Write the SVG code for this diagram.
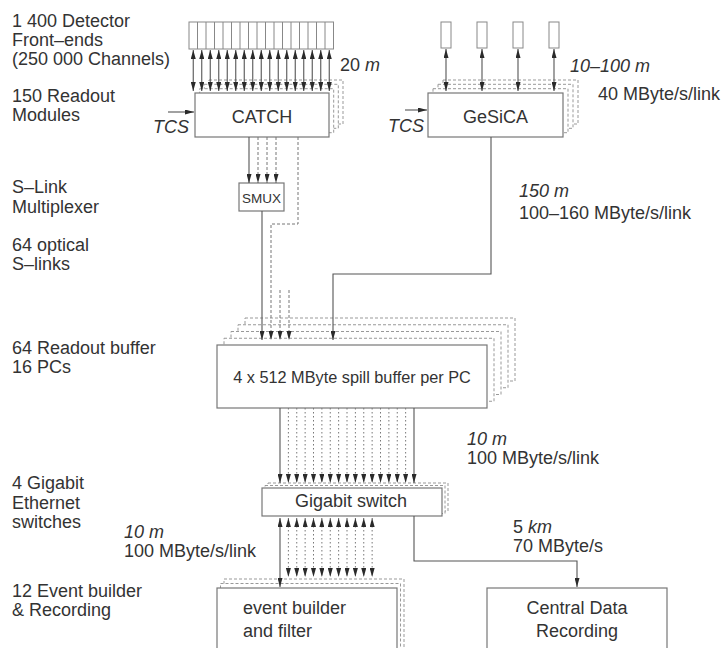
<svg xmlns="http://www.w3.org/2000/svg" width="727" height="648" viewBox="0 0 727 648">
<defs>
<marker id="ah" viewBox="0 0 9 5" markerWidth="9" markerHeight="5" refX="9" refY="2.5" markerUnits="userSpaceOnUse" orient="auto-start-reverse">
<path d="M0,0 L9,2.5 L0,5 z" fill="#2a2a2a"/>
</marker>
<style>
text{font-family:"Liberation Sans",Arial,Helvetica,sans-serif;font-size:18px;fill:#333}
.it{font-style:italic}
.box{fill:#fff;stroke:#777;stroke-width:1.2}
.sh{fill:#fff;stroke:#999;stroke-width:1;stroke-dasharray:3,2}
.fe{fill:#fff;stroke:#888;stroke-width:1}
.ln{fill:none;stroke:#555;stroke-width:1.1}
.ds{fill:none;stroke:#777;stroke-width:1;stroke-dasharray:3,2}
.dt{fill:none;stroke:#777;stroke-width:1;stroke-dasharray:1.5,2.5}
.a2{marker-start:url(#ah);marker-end:url(#ah)}
.a1{marker-end:url(#ah)}
</style>
</defs>
<rect width="727" height="648" fill="#fff"/>

<g id="labels">
<text x="12" y="27">1 400 Detector</text>
<text x="12" y="46">Front–ends</text>
<text x="12" y="65">(250 000 Channels)</text>
<text x="12" y="102">150 Readout</text>
<text x="12" y="121">Modules</text>
<text x="12" y="193">S–Link</text>
<text x="12" y="213">Multiplexer</text>
<text x="12" y="251">64 optical</text>
<text x="12" y="270">S–links</text>
<text x="12" y="354">64 Readout buffer</text>
<text x="12" y="373">16 PCs</text>
<text x="12" y="489">4 Gigabit</text>
<text x="12" y="509">Ethernet</text>
<text x="12" y="528">switches</text>
<text x="12" y="597">12 Event builder</text>
<text x="12" y="616">&amp; Recording</text>
<text x="340" y="71">20 <tspan class="it">m</tspan></text>
<text x="570" y="72" class="it">10–100 m</text>
<text x="598" y="100">40 MByte/s/link</text>
<text x="153" y="133" class="it">TCS</text>
<text x="388" y="132" class="it">TCS</text>
<text x="519" y="197" class="it">150 m</text>
<text x="519" y="219">100–160 MByte/s/link</text>
<text x="467" y="445" class="it">10 m</text>
<text x="467" y="464">100 MByte/s/link</text>
<text x="124" y="538" class="it">10 m</text>
<text x="124" y="557">100 MByte/s/link</text>
<text x="513" y="533">5 <tspan class="it">km</tspan></text>
<text x="513" y="552">70 MByte/s</text>
</g>

<g id="frontends">
<rect class="fe" x="189" y="22" width="144.5" height="27"/>
<path d="M197.5,22V49M206,22V49M214.5,22V49M223,22V49M231.5,22V49M240,22V49M248.5,22V49M257,22V49M265.5,22V49M274,22V49M282.5,22V49M291,22V49M299.5,22V49M308,22V49M316.5,22V49M325,22V49" stroke="#888" stroke-width="1" fill="none"/>
</g>

<g id="gesica-frontends">
<rect class="fe" x="441" y="22" width="10" height="26"/>
<rect class="fe" x="477" y="22" width="10" height="26"/>
<rect class="fe" x="513" y="22" width="10" height="26"/>
<rect class="fe" x="549" y="22" width="10" height="26"/>
</g>

<g id="catch">
<rect class="sh" x="209" y="80" width="134" height="44"/>
<rect class="sh" x="204.3" y="84.3" width="134" height="44"/>
<rect class="sh" x="199.7" y="88.7" width="134" height="44"/>
<rect class="box" x="195" y="93" width="134" height="44"/>
<text x="262" y="123" text-anchor="middle">CATCH</text>
</g>

<g id="gesica">
<rect class="sh" x="443" y="80" width="135" height="44"/>
<rect class="sh" x="438" y="84.3" width="135" height="44"/>
<rect class="sh" x="433" y="88.7" width="135" height="44"/>
<rect class="box" x="428" y="93" width="135" height="44"/>
<text x="495.5" y="123" text-anchor="middle">GeSiCA</text>
</g>

<g id="smux">
<rect class="box" x="239" y="183" width="45" height="28" stroke-width="1"/>
<text x="261.5" y="203" text-anchor="middle" style="font-size:13.5px">SMUX</text>
</g>

<g id="buffer">
<rect class="sh" x="245" y="318" width="270" height="63"/>
<rect class="sh" x="238" y="324.75" width="270" height="63"/>
<rect class="sh" x="231" y="331.5" width="270" height="63"/>
<rect class="sh" x="224" y="338.25" width="270" height="63"/>
<rect class="box" x="217" y="345" width="270" height="63"/>
<text x="352" y="383" text-anchor="middle" style="font-size:16.3px">4 x 512 MByte spill buffer per PC</text>
</g>

<g id="switch">
<rect class="sh" x="268" y="483" width="180" height="28"/>
<rect class="sh" x="265" y="485.5" width="180" height="28"/>
<rect class="box" x="262" y="488" width="180" height="28"/>
<text x="351" y="507" text-anchor="middle">Gigabit switch</text>
</g>

<g id="event-builder">
<rect class="sh" x="224" y="579" width="180" height="80"/>
<rect class="sh" x="220.5" y="583.5" width="180" height="80"/>
<rect class="box" x="217" y="588" width="180" height="80"/>
<text x="243" y="614">event builder</text>
<text x="243" y="637">and filter</text>
</g>

<g id="central-data-recording">
<rect class="box" x="487" y="588" width="180" height="80"/>
<text x="577" y="614" text-anchor="middle">Central Data</text>
<text x="577" y="637" text-anchor="middle">Recording</text>
</g>

<g id="connectors">
<g class="ln a2">
<line x1="193.25" y1="50" x2="193.25" y2="91"/>
<line x1="201.75" y1="50" x2="201.75" y2="91"/>
<line x1="210.25" y1="50" x2="210.25" y2="91"/>
<line x1="218.75" y1="50" x2="218.75" y2="91"/>
<line x1="227.25" y1="50" x2="227.25" y2="91"/>
<line x1="235.75" y1="50" x2="235.75" y2="91"/>
<line x1="244.25" y1="50" x2="244.25" y2="91"/>
<line x1="252.75" y1="50" x2="252.75" y2="91"/>
<line x1="261.25" y1="50" x2="261.25" y2="91"/>
<line x1="269.75" y1="50" x2="269.75" y2="91"/>
<line x1="278.25" y1="50" x2="278.25" y2="91"/>
<line x1="286.75" y1="50" x2="286.75" y2="91"/>
<line x1="295.25" y1="50" x2="295.25" y2="91"/>
<line x1="303.75" y1="50" x2="303.75" y2="91"/>
<line x1="312.25" y1="50" x2="312.25" y2="91"/>
<line x1="320.75" y1="50" x2="320.75" y2="91"/>
<line x1="329.25" y1="50" x2="329.25" y2="91"/>
<line x1="446" y1="49" x2="446" y2="91"/>
<line x1="482" y1="49" x2="482" y2="91"/>
<line x1="518" y1="49" x2="518" y2="91"/>
<line x1="554" y1="49" x2="554" y2="91"/>
</g>
<line class="ln a1" x1="168" y1="112" x2="194" y2="112"/>
<line class="ln a1" x1="405" y1="110" x2="427" y2="110"/>
<line class="ln a1" x1="249" y1="137" x2="249" y2="183"/>
<line class="ds a1" x1="258" y1="137" x2="258" y2="183"/>
<line class="ds a1" x1="267" y1="137" x2="267" y2="183"/>
<line class="ds a1" x1="276" y1="137" x2="276" y2="183"/>
<line class="ln a1" x1="262" y1="211" x2="262" y2="340"/>
<path class="ds a1" d="M298,137 V224 H271 V340"/>
<line class="ds a1" x1="280" y1="290" x2="280" y2="340"/>
<line class="ds a1" x1="289" y1="290" x2="289" y2="340"/>
<path class="ln a1" d="M491,137 V274 H333 V340"/>
<line class="ln a1" x1="280" y1="408" x2="280" y2="483"/>
<g class="dt a1">
<line x1="288.375" y1="408" x2="288.375" y2="483"/>
<line x1="296.75" y1="408" x2="296.75" y2="483"/>
<line x1="305.125" y1="408" x2="305.125" y2="483"/>
<line x1="313.5" y1="408" x2="313.5" y2="483"/>
<line x1="321.875" y1="408" x2="321.875" y2="483"/>
<line x1="330.25" y1="408" x2="330.25" y2="483"/>
<line x1="338.625" y1="408" x2="338.625" y2="483"/>
<line x1="347" y1="408" x2="347" y2="483"/>
<line x1="355.375" y1="408" x2="355.375" y2="483"/>
<line x1="363.75" y1="408" x2="363.75" y2="483"/>
<line x1="372.125" y1="408" x2="372.125" y2="483"/>
<line x1="380.5" y1="408" x2="380.5" y2="483"/>
<line x1="388.875" y1="408" x2="388.875" y2="483"/>
<line x1="397.25" y1="408" x2="397.25" y2="483"/>
<line x1="405.625" y1="408" x2="405.625" y2="483"/>
</g>
<line class="ln a1" x1="414" y1="408" x2="414" y2="483"/>
<line class="ln a2" x1="280" y1="518" x2="280" y2="587"/>
<g class="dt a2">
<line x1="288.375" y1="518" x2="288.375" y2="577"/>
<line x1="296.75" y1="518" x2="296.75" y2="577"/>
<line x1="305.125" y1="518" x2="305.125" y2="577"/>
<line x1="313.5" y1="518" x2="313.5" y2="577"/>
<line x1="321.875" y1="518" x2="321.875" y2="577"/>
<line x1="330.25" y1="518" x2="330.25" y2="577"/>
<line x1="338.625" y1="518" x2="338.625" y2="577"/>
<line x1="347" y1="518" x2="347" y2="577"/>
<line x1="355.375" y1="518" x2="355.375" y2="577"/>
<line x1="363.75" y1="518" x2="363.75" y2="577"/>
<line x1="372.125" y1="518" x2="372.125" y2="577"/>
</g>
<path class="ln a1" d="M414,516 V561 H577 V587"/>
</g>
</svg>
